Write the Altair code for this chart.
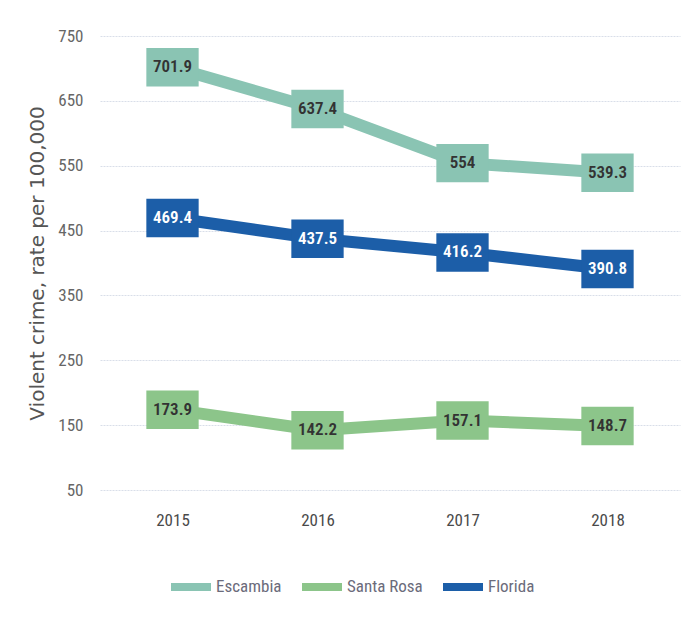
import altair as alt
import pandas as pd

years = ["2015", "2016", "2017", "2018"]
series_names = ["Escambia", "Santa Rosa", "Florida"]
escambia = [701.9, 637.4, 554, 539.3]
santa_rosa = [173.9, 142.2, 157.1, 148.7]
florida = [469.4, 437.5, 416.2, 390.8]
colors = ["#8ac4b3", "#8cc58a", "#1c5ea8"]

rows = []
for name, vals in zip(series_names, [escambia, santa_rosa, florida]):
    for y, v in zip(years, vals):
        rows.append({"year": y, "series": name, "value": v, "label": f"{v:g}"})
df = pd.DataFrame(rows)

FONT = "Liberation Sans Narrow, Arial Narrow, Roboto Condensed, sans-serif"

x = alt.X("year:N", scale=alt.Scale(type="point", padding=0.5),
          axis=alt.Axis(title=None, ticks=False, domain=False, labelAngle=0,
                        labelPadding=22, labelFontSize=17, labelColor="#4a4a4a",
                        labelFont=FONT, grid=False))
y = alt.Y("value:Q", scale=alt.Scale(domain=[50, 750], nice=False, zero=False),
          axis=alt.Axis(values=[50, 150, 250, 350, 450, 550, 650, 750],
                        title="Violent crime, rate per 100,000",
                        titleFont="DejaVu Sans", titleFontSize=20,
                        titleFontWeight="normal", titleColor="#555",
                        titleX=-53, titleY=227, titleAngle=-90,
                        ticks=False, domain=False, labelPadding=17,
                        labelFontSize=17, labelColor="#666", labelFont=FONT,
                        gridColor="#d9dee9", gridDash=[2, 1], gridWidth=1))
color_scale = alt.Scale(domain=series_names, range=colors)

lines = alt.Chart(df).mark_line(strokeWidth=12, strokeJoin="round").encode(
    x=x, y=y,
    color=alt.Color("series:N", scale=color_scale, sort=series_names,
                    legend=alt.Legend(title=None, orient="none", direction="horizontal",
                                      legendX=67, legendY=527,
                                      symbolType="stroke", symbolStrokeWidth=8,
                                      symbolSize=1600, labelFont=FONT,
                                      labelFontSize=17, labelColor="#6b6b7b",
                                      labelOffset=1, columnPadding=4)),
    detail="series:N",
)

boxes = alt.Chart(df).mark_point(
    shape="M-1.36,-1H1.36V1H-1.36Z", filled=True, opacity=1, size=1480
).encode(
    x=x, y=y,
    color=alt.Color("series:N", scale=color_scale, legend=None),
)

labels = alt.Chart(df).mark_text(font=FONT, fontSize=17, fontWeight=600,
                                 baseline="middle", align="center").encode(
    x=x, y=y, text="label:N",
    color=alt.condition(alt.datum.series == "Florida", alt.value("white"), alt.value("#333")),
)

chart = alt.layer(lines, boxes, labels).properties(
    width=580, height=454,
    autosize=alt.AutoSizeParams(type="none"),
    padding={"left": 92, "top": 28, "right": 10, "bottom": 120},
).configure_view(stroke=None).configure_axis(labelFontWeight="normal")

chart.save("out.html", embed_options={"renderer": "svg", "actions": False})
